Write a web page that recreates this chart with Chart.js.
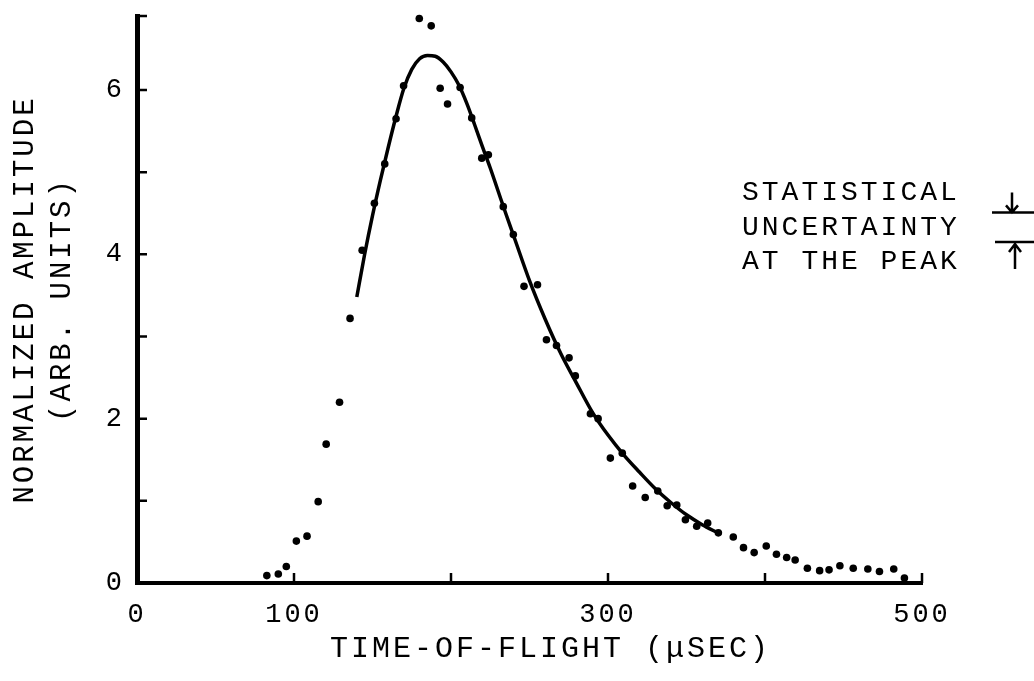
<!DOCTYPE html>
<html>
<head>
<meta charset="utf-8">
<title>Time-of-flight spectrum</title>
<script src="https://cdn.jsdelivr.net/npm/chart.js@4.4.1/dist/chart.umd.min.js"></script>
<style>
    html, body { margin: 0; padding: 0; background: #fff; }
    canvas { display: block; }
</style>
</head>
<body>
<canvas id="tof-chart" width="1034" height="681"></canvas>
<script>
// Measured time-of-flight spectrum (usec vs normalized amplitude)
const tofMeasured = [
    82.7, 90.0, 95.1, 101.5, 108.3, 115.4, 120.5, 129.0, 135.7, 143.4,
    151.2, 157.8, 165.0, 169.8, 179.8, 187.4, 193.1, 197.8, 205.8, 213.2,
    219.6, 223.8, 233.3, 239.7, 246.5, 255.1, 260.8, 267.2, 275.2, 279.2,
    288.8, 293.7, 301.5, 309.1, 315.7, 323.7, 331.7, 337.7, 343.8, 349.3,
    356.5, 363.5, 370.3, 379.8, 386.3, 393.1, 400.8, 407.3, 413.8, 419.2,
    427.0, 434.8, 440.8, 447.7, 456.2, 465.5, 472.9, 482.0, 488.8
];
const ampMeasured = [
    0.09, 0.11, 0.20, 0.51, 0.57, 0.99, 1.69, 2.20, 3.22, 4.05,
    4.62, 5.10, 5.65, 6.05, 6.87, 6.78, 6.02, 5.83, 6.03, 5.66,
    5.17, 5.21, 4.58, 4.24, 3.61, 3.63, 2.96, 2.89, 2.74, 2.52,
    2.06, 2.00, 1.52, 1.58, 1.18, 1.04, 1.12, 0.94, 0.95, 0.77,
    0.69, 0.73, 0.61, 0.56, 0.43, 0.37, 0.45, 0.35, 0.31, 0.28,
    0.18, 0.15, 0.16, 0.21, 0.18, 0.17, 0.14, 0.17, 0.06
];

// Fitted curve through the main peak
const tofFit = [
    140, 145, 150, 155, 160, 165, 170, 175, 180, 185,
    190, 195, 200, 205, 210, 215, 220, 225, 230, 235,
    240, 250, 260, 270, 280, 290, 300, 310, 320, 330,
    340, 350, 360, 370
];
const ampFit = [
    3.48, 4.00, 4.47, 4.90, 5.30, 5.68, 6.02, 6.25, 6.38, 6.42,
    6.41, 6.34, 6.22, 6.06, 5.84, 5.58, 5.31, 5.05, 4.77, 4.49,
    4.22, 3.68, 3.21, 2.79, 2.43, 2.08, 1.80, 1.56, 1.35, 1.15,
    0.98, 0.83, 0.71, 0.61
];

const xTickValues = [0, 100, 200, 300, 400, 500];
const xTickLabels = { 0: '0', 100: '100', 300: '300', 500: '500' };
const yTickValues = [0, 1, 2, 3, 4, 5, 6];
const yTickLabels = { 0: '0', 2: '2', 4: '4', 6: '6' };

const noteLines = ['STATISTICAL', 'UNCERTAINTY', 'AT THE PEAK'];
// amplitude span of the peak uncertainty marker
const peakBarHigh = 4.51;
const peakBarLow = 4.15;

const FONT = "'Liberation Mono', 'DejaVu Sans Mono', monospace";

// typewriter-ish spacing for every label drawn on the canvas
const typewriter = {
    id: 'typewriter',
    beforeDraw(chart) {
        chart.ctx.letterSpacing = '3px';
    }
};

// short tick marks pointing into the plot, plus the axis end stubs
const inwardTicks = {
    id: 'inwardTicks',
    afterDraw(chart) {
        const { ctx, chartArea, scales } = chart;
        const len = 10;
        ctx.save();
        ctx.strokeStyle = '#000';
        ctx.lineWidth = 2.5;
        ctx.beginPath();
        yTickValues.concat([scales.y.max]).forEach(v => {
            if (v === 0) return;
            const py = scales.y.getPixelForValue(v);
            ctx.moveTo(chartArea.left, py);
            ctx.lineTo(chartArea.left + len, py);
        });
        xTickValues.forEach(v => {
            if (v === 0) return;
            const px = scales.x.getPixelForValue(v);
            ctx.moveTo(px, chartArea.bottom);
            ctx.lineTo(px, chartArea.bottom - len);
        });
        ctx.stroke();
        ctx.restore();
    }
};

// note on the right with the uncertainty bracket
const uncertaintyNote = {
    id: 'uncertaintyNote',
    afterDraw(chart) {
        const { ctx, scales } = chart;
        ctx.save();
        ctx.fillStyle = '#000';
        ctx.strokeStyle = '#000';
        ctx.font = '28px ' + FONT;
        ctx.textAlign = 'left';
        ctx.textBaseline = 'middle';
        noteLines.forEach((t, i) => ctx.fillText(t, 742, 193 + i * 34.5));

        const yHi = scales.y.getPixelForValue(peakBarHigh);
        const yLo = scales.y.getPixelForValue(peakBarLow);
        ctx.lineWidth = 2.5;
        ctx.beginPath();
        ctx.moveTo(992, yHi);
        ctx.lineTo(1034, yHi);
        ctx.moveTo(995, yLo);
        ctx.lineTo(1034, yLo);
        // down arrow onto the upper line
        ctx.moveTo(1012, yHi - 20);
        ctx.lineTo(1012, yHi);
        ctx.moveTo(1006, yHi - 7);
        ctx.lineTo(1012, yHi);
        ctx.lineTo(1018, yHi - 7);
        // up arrow onto the lower line
        ctx.moveTo(1015, yLo + 27);
        ctx.lineTo(1015, yLo + 2);
        ctx.moveTo(1009, yLo + 10);
        ctx.lineTo(1015, yLo + 2);
        ctx.lineTo(1021, yLo + 10);
        ctx.stroke();
        ctx.restore();
    }
};

const measured = tofMeasured.map((t, i) => ({ x: t, y: ampMeasured[i] }));
const fitted = tofFit.map((t, i) => ({ x: t, y: ampFit[i] }));

new Chart(document.getElementById('tof-chart'), {
    type: 'scatter',
    data: {
        datasets: [
            {
                label: 'measured',
                data: measured,
                pointRadius: 3.8,
                pointBorderWidth: 0,
                pointBackgroundColor: '#000',
                clip: false
            },
            {
                label: 'fit',
                data: fitted,
                showLine: true,
                pointRadius: 0,
                borderColor: '#000',
                borderWidth: 3.5,
                cubicInterpolationMode: 'monotone',
                clip: false
            }
        ]
    },
    options: {
        responsive: false,
        animation: false,
        layout: { padding: { top: 16, right: 112, left: 0, bottom: 0 } },
        plugins: {
            legend: { display: false },
            tooltip: { enabled: false }
        },
        scales: {
            x: {
                type: 'linear',
                min: 0,
                max: 500,
                afterFit: s => { s.height = 98; s.paddingLeft = 0; s.paddingRight = 0; },
                afterBuildTicks: s => { s.ticks = xTickValues.map(v => ({ value: v })); },
                grid: { display: false, drawTicks: false },
                border: { display: true, width: 4, color: '#000' },
                ticks: {
                    padding: 16,
                    color: '#000',
                    maxRotation: 0,
                    autoSkip: false,
                    font: { family: FONT, size: 27 },
                    callback: v => xTickLabels[v] || ''
                },
                title: {
                    display: true,
                    text: '  TIME-OF-FLIGHT (\u03bcSEC)',
                    color: '#000',
                    font: { family: FONT, size: 30, lineHeight: 1.2 },
                    padding: { top: 0, bottom: 14 }
                }
            },
            y: {
                type: 'linear',
                min: 0,
                max: 6.9,
                afterFit: s => { s.width = 137; s.paddingTop = 0; s.paddingBottom = 0; },
                afterBuildTicks: s => { s.ticks = yTickValues.map(v => ({ value: v })); },
                grid: { display: false, drawTicks: false },
                border: { display: true, width: 5, color: '#000' },
                ticks: {
                    padding: 12,
                    color: '#000',
                    autoSkip: false,
                    font: { family: FONT, size: 27 },
                    callback: v => yTickLabels[v] || ''
                },
                title: {
                    display: true,
                    text: ['NORMALIZED AMPLITUDE', '(ARB. UNITS)'],
                    color: '#000',
                    font: { family: FONT, size: 29, lineHeight: 1.3 },
                    padding: { top: 6, bottom: 0 }
                }
            }
        }
    },
    plugins: [typewriter, inwardTicks, uncertaintyNote]
});
</script>
</body>
</html>
